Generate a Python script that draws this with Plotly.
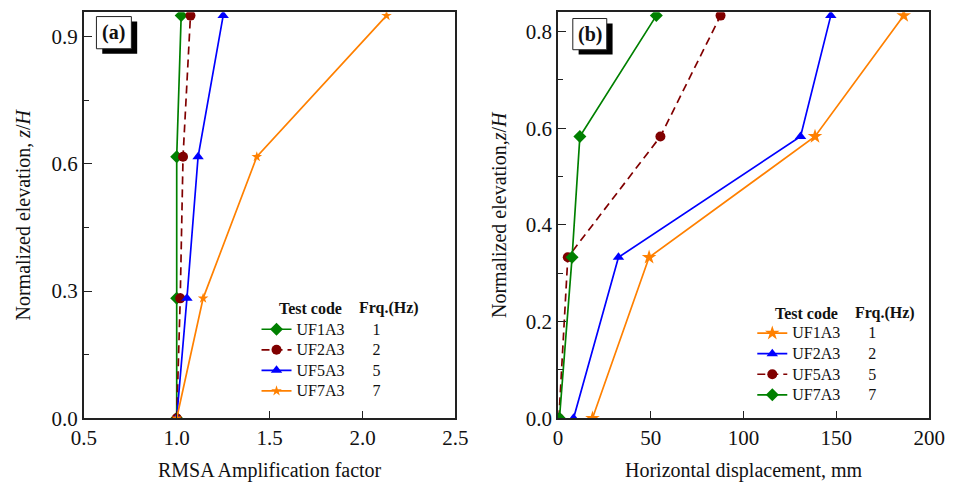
import plotly.graph_objects as go
from plotly.subplots import make_subplots

# ---------------- data ----------------
ya = [0.0, 0.283, 0.617, 0.95]
a_names = ["UF1A3", "UF2A3", "UF5A3", "UF7A3"]
a_freqs = ["1", "2", "5", "7"]
a_UF1A3 = [1.0, 1.0, 1.0, 1.024]
a_UF2A3 = [1.0, 1.019, 1.034, 1.074]
a_UF5A3 = [1.0, 1.055, 1.115, 1.25]
a_UF7A3 = [1.0, 1.142, 1.431, 2.129]

yb = [0.0, 0.333, 0.583, 0.833]
b_names = ["UF1A3", "UF2A3", "UF5A3", "UF7A3"]
b_freqs = ["1", "2", "5", "7"]
b_UF1A3 = [18.6, 49.1, 138.5, 186.3]
b_UF2A3 = [8.4, 32.6, 130.7, 147.0]
b_UF5A3 = [0.5, 5.3, 55.2, 87.6]
b_UF7A3 = [0.8, 7.6, 11.8, 53.0]

GREEN = "#008000"
BROWN = "#800000"
BLUE = "#0000FF"
ORANGE = "#FF8000"
FONT = "Liberation Serif"

fig = make_subplots(rows=1, cols=2)

def lname(n, f):
    return '<span style="font-size:16px">' + n + "\u00a0" * 7 + f + "</span>"

# panel (a)
a_series = [
    (a_UF1A3, GREEN, "diamond", 10, "solid"),
    (a_UF2A3, BROWN, "circle", 10, "8px,5px"),
    (a_UF5A3, BLUE, "triangle-up", 10, "solid"),
    (a_UF7A3, ORANGE, "star", 8, "solid"),
]
for (xs, col, sym, sz, dash), n, f in zip(a_series, a_names, a_freqs):
    fig.add_trace(go.Scatter(x=xs, y=ya, mode="lines+markers", name=lname(n, f),
                             line=dict(color=col, width=1.7, dash=dash),
                             marker=dict(symbol=sym, size=sz, color=col),
                             legend="legend"), row=1, col=1)

# panel (b)
b_series = [
    (b_UF1A3, ORANGE, "star", 11, "solid"),
    (b_UF2A3, BLUE, "triangle-up", 10, "solid"),
    (b_UF5A3, BROWN, "circle", 10, "8px,5px"),
    (b_UF7A3, GREEN, "diamond", 10, "solid"),
]
for (xs, col, sym, sz, dash), n, f in zip(b_series, b_names, b_freqs):
    fig.add_trace(go.Scatter(x=xs, y=yb, mode="lines+markers", name=lname(n, f),
                             line=dict(color=col, width=1.7, dash=dash),
                             marker=dict(symbol=sym, size=sz, color=col),
                             legend="legend2"), row=1, col=2)

axis_common = dict(showline=True, linecolor="#222", linewidth=1.5, mirror=True,
                   ticks="inside", ticklen=8, tickwidth=1.3, tickcolor="#222",
                   showgrid=False, zeroline=False,
                   tickfont=dict(family=FONT, size=21, color="#111"),
                   title_font=dict(family=FONT, size=20, color="#111"))

fig.update_xaxes(**axis_common)
fig.update_yaxes(**axis_common)

fig.update_xaxes(row=1, col=1, domain=[0.075, 0.4687], range=[0.5, 2.5],
                 tickvals=[0.5, 1.0, 1.5, 2.0, 2.5],
                 ticktext=["0.5", "1.0", "1.5", "2.0", "2.5"],
                 title_text="RMSA Amplification factor")
fig.update_yaxes(row=1, col=1, domain=[0.11, 0.974], range=[0, 0.958],
                 tickvals=[0, 0.3, 0.6, 0.9], ticktext=["0.0", "0.3", "0.6", "0.9"],
                 minor=dict(tickvals=[0.15, 0.45, 0.75], ticks="inside", ticklen=5,
                            tickcolor="#222", tickwidth=1.2),
                 title_text="Normalized elevation, <i>z</i>/<i>H</i>",
                 title_standoff=16)
fig.update_xaxes(row=1, col=2, domain=[0.5773, 0.9705], range=[0, 200],
                 tickvals=[0, 50, 100, 150, 200],
                 title_text="Horizontal displacement, mm")
fig.update_yaxes(row=1, col=2, domain=[0.11, 0.974], range=[0, 0.84],
                 tickvals=[0, 0.2, 0.4, 0.6, 0.8],
                 ticktext=["0.0", "0.2", "0.4", "0.6", "0.8"],
                 minor=dict(tickvals=[0.1, 0.3, 0.5, 0.7], ticks="inside", ticklen=5,
                            tickcolor="#222", tickwidth=1.2),
                 title_text="Normalized elevation,<i>z</i>/<i>H</i>",
                 title_standoff=14)

W, H = 973, 482
def px(x):
    return x / W
def py(y):
    return 1 - y / H

legend_common = dict(bgcolor="rgba(0,0,0,0)", borderwidth=0,
                     font=dict(family=FONT, size=13.5, color="#111"),
                     xanchor="left", yanchor="top", tracegroupgap=0)

fig.update_layout(
    width=W, height=H,
    margin=dict(l=0, r=0, t=0, b=0),
    plot_bgcolor="white", paper_bgcolor="white",
    font=dict(family=FONT, color="#111"),
    showlegend=True,
    legend=dict(x=px(251), y=py(322), **legend_common),
    legend2=dict(x=px(762), y=py(326), **legend_common),
)

# legend headers
hdr = dict(xref="paper", yref="paper", showarrow=False,
           font=dict(family=FONT, size=16, color="#111"), xanchor="center", yanchor="middle")
fig.add_annotation(x=px(307), y=py(316), text="<b>Test code</b>", **hdr)
fig.add_annotation(x=px(388), y=py(316), text="<b>Frq.(Hz)</b>", **hdr)
fig.add_annotation(x=px(818), y=py(321), text="<b>Test code</b>", **hdr)
fig.add_annotation(x=px(899), y=py(321), text="<b>Frq.(Hz)</b>", **hdr)

# panel labels with shadow boxes
for (x0, y0, x1, y1, lab) in [(86, 17, 122, 50, "(a)"), (577, 19, 612, 51, "(b)")]:
    fig.add_shape(type="rect", xref="paper", yref="paper",
                  x0=px(x0 + 6), x1=px(x1 + 6), y0=py(y1 + 5), y1=py(y0 + 5),
                  fillcolor="black", line=dict(width=0))
    fig.add_shape(type="rect", xref="paper", yref="paper",
                  x0=px(x0), x1=px(x1), y0=py(y1), y1=py(y0),
                  fillcolor="white", line=dict(color="#222", width=1))
    fig.add_annotation(xref="paper", yref="paper", x=px((x0 + x1) / 2), y=py((y0 + y1) / 2),
                       text="<b>" + lab + "</b>", showarrow=False,
                       font=dict(family=FONT, size=20, color="#111"),
                       xanchor="center", yanchor="middle")

fig.write_html("out.html")
